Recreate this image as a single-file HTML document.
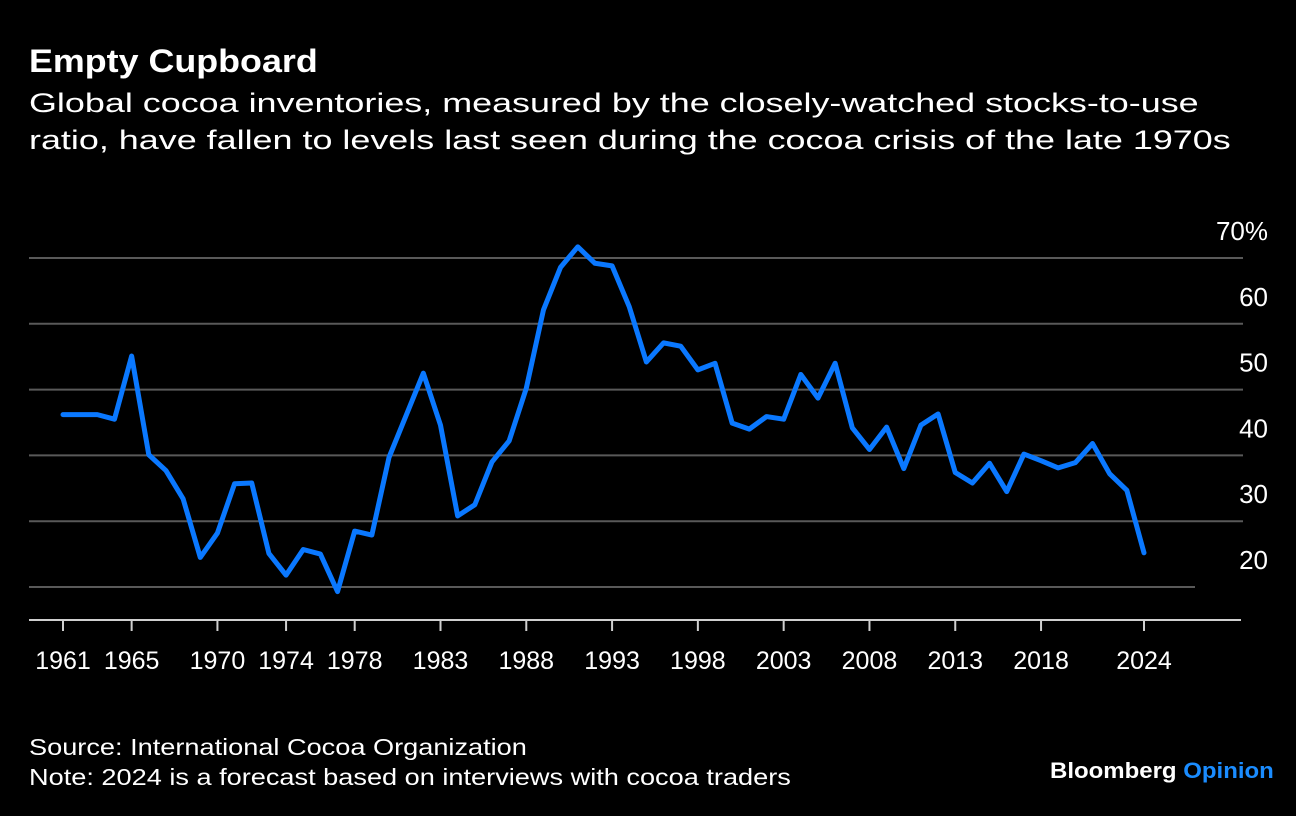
<!DOCTYPE html>
<html><head><meta charset="utf-8"><style>
body{margin:0;background:#000;width:1296px;height:816px;overflow:hidden;font-family:"Liberation Sans",sans-serif;color:#fff;position:relative}
.t{position:absolute;white-space:nowrap;transform-origin:0 0}
</style></head><body>
<div class="t" style="left:29px;top:43px;font-size:32px;font-weight:bold;transform:scaleX(1.12)">Empty Cupboard</div>
<div class="t" style="left:29px;top:85px;font-size:27px;line-height:37px;transform:scaleX(1.33)">Global cocoa inventories, measured by the closely-watched stocks-to-use<br>ratio, have fallen to levels last seen during the cocoa crisis of the late 1970s</div>
<svg id="chart" width="1296" height="816" style="position:absolute;left:0;top:0"></svg>
<div class="t" style="left:29px;top:732px;font-size:23px;line-height:30px;transform:scaleX(1.18)">Source: International Cocoa Organization<br>Note: 2024 is a forecast based on interviews with cocoa traders</div>
<div class="t" style="left:1050px;top:758px;font-size:22px;font-weight:bold;transform:scaleX(1.09)">Bloomberg <span style="color:#1a8cff">Opinion</span></div>
<script>
const years=[];for(let y=1961;y<=2024;y++)years.push(y);
const values=[46.2,46.2,46.2,45.5,55.1,40.1,37.7,33.4,24.5,28.2,35.7,35.8,25.1,21.8,25.7,25.0,19.3,28.5,27.9,39.7,46.1,52.5,44.6,30.8,32.5,39.0,42.2,50.2,62.1,68.6,71.7,69.2,68.8,62.6,54.2,57.1,56.6,53.0,54.0,44.9,44.0,45.9,45.5,52.3,48.7,54.0,44.2,40.9,44.3,38.0,44.6,46.3,37.4,35.8,38.8,34.5,40.2,39.2,38.1,38.9,41.8,37.2,34.7,25.2];
const yTicks=[70,60,50,40,30,20];
const yTickLabels=["70%","60","50","40","30","20"];
const xTicks=[1961,1965,1970,1974,1978,1983,1988,1993,1998,2003,2008,2013,2018,2024];
const NS='http://www.w3.org/2000/svg';
const svg=document.getElementById('chart');
const x=yr=>63+(yr-1961)*(1144-63)/63;
const y=v=>587-(v-20)*6.58;
function mk(tag,attrs){const e=document.createElementNS(NS,tag);for(const k in attrs)e.setAttribute(k,attrs[k]);svg.appendChild(e);return e;}
yTicks.forEach((t,i)=>{
  const g=mk('line',{x1:29,x2:t===20?1195:1243,y1:y(t),y2:y(t),stroke:'#595959','stroke-width':2});
  
  
  const l=mk('text',{x:1268,y:y(t)-18,'text-anchor':'end','font-size':26,fill:'#fff','font-family':'Liberation Sans, sans-serif'});
  l.textContent=yTickLabels[i];
  
  
});
const ax=mk('line',{x1:29,x2:1241,y1:620,y2:620,stroke:'#cfcfcf','stroke-width':2});


xTicks.forEach(t=>{
  const tk=mk('line',{x1:x(t),x2:x(t),y1:620,y2:631,stroke:'#cfcfcf','stroke-width':2});
  
  
  const l=mk('text',{x:x(t),y:669,'text-anchor':'middle','font-size':25,fill:'#fff','font-family':'Liberation Sans, sans-serif'});
  l.textContent=t;
  
  
});
const p=mk('polyline',{points:years.map((yr,i)=>x(yr)+','+y(values[i])).join(' '),fill:'none',stroke:'#0a78ff','stroke-width':5,'stroke-linejoin':'round','stroke-linecap':'round'});


</script>
</body></html>
